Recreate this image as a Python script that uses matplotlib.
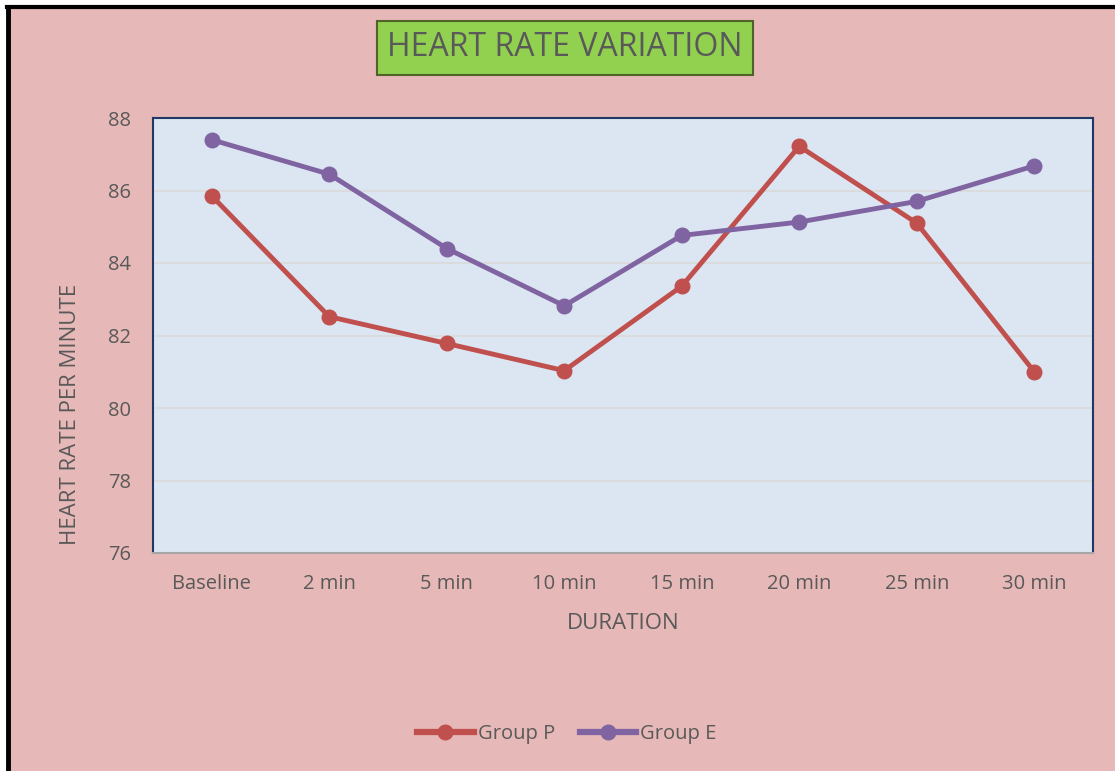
import matplotlib
matplotlib.use("Agg")
import matplotlib.pyplot as plt
from matplotlib.patches import Rectangle
from matplotlib.lines import Line2D

categories = ["Baseline", "2 min", "5 min", "10 min", "15 min", "20 min", "25 min", "30 min"]
group_p = [85.85, 82.52, 81.78, 81.03, 83.36, 87.22, 85.10, 81.00]
group_e = [87.40, 86.45, 84.40, 82.82, 84.76, 85.13, 85.70, 86.68]
yticks = [76, 78, 80, 82, 84, 86, 88]

plt.rcParams['font.family'] = ['Open Sans', 'DejaVu Sans']
txt = '#595959'
W, H = 1115, 771

fig = plt.figure(figsize=(11.15, 7.71), dpi=100)
fig.patch.set_facecolor('white')
# pink chart area with black left/top border
fig.patches.append(Rectangle((8/W, 0), 1, 1 - 7/H, transform=fig.transFigure,
                             facecolor='#E6B8B7', edgecolor='none', zorder=-10))
fig.lines.append(Line2D([8/W, 8/W], [0, 1 - 6.5/H], transform=fig.transFigure, color='black', lw=3.5, zorder=-5))
fig.lines.append(Line2D([6.5/W, 1], [1 - 6.5/H, 1 - 6.5/H], transform=fig.transFigure, color='black', lw=3, zorder=-5))

ax = fig.add_axes([153/W, 1-553/H, 940/W, 435/H])
ax.set_facecolor('#DCE6F2')

x = list(range(len(categories)))
ax.plot(x, group_p, color='#C0504D', lw=3.5, marker='o', ms=10.5, label='Group P', zorder=3)
ax.plot(x, group_e, color='#8064A2', lw=3.5, marker='o', ms=10.5, label='Group E', zorder=3)

ax.set_xlim(-0.5, 7.5)
ax.set_ylim(76, 88)
ax.set_yticks(yticks)
ax.set_xticks(x)
ax.set_xticklabels(categories)
ax.yaxis.grid(True, color='#D9D9D9', lw=1.2)
ax.set_axisbelow(True)
ax.tick_params(axis='both', length=0, labelsize=14.5, colors=txt)
ax.tick_params(axis='x', pad=15)
ax.tick_params(axis='y', pad=16)
for s in ['left', 'top', 'right']:
    ax.spines[s].set_color('#1F3864')
    ax.spines[s].set_linewidth(1.5)
ax.spines['bottom'].set_color('#A6A6A6')
ax.spines['bottom'].set_linewidth(1.5)

ax.set_xlabel('DURATION', fontsize=16, color=txt, labelpad=14)
ax.set_ylabel('HEART RATE PER MINUTE', fontsize=16, color=txt)
ax.yaxis.set_label_coords((81-153)/940, (553-414)/435)

fig.text(565/W, 1-48/H, 'HEART RATE VARIATION', fontsize=23, color=txt,
         ha='center', va='center',
         bbox=dict(boxstyle='square,pad=0.32', facecolor='#92D050', edgecolor='#4F6228', lw=1.5))

leg = fig.legend(loc='center', bbox_to_anchor=(567/W, 1-734/H), ncol=2, frameon=False,
                 fontsize=14.5, handlelength=2.8, handletextpad=0.2, columnspacing=1.25)
for t in leg.get_texts():
    t.set_color(txt)
for h in leg.legend_handles:
    h.set_linewidth(4.5)

fig.savefig('out.png', dpi=100, facecolor=fig.get_facecolor())
